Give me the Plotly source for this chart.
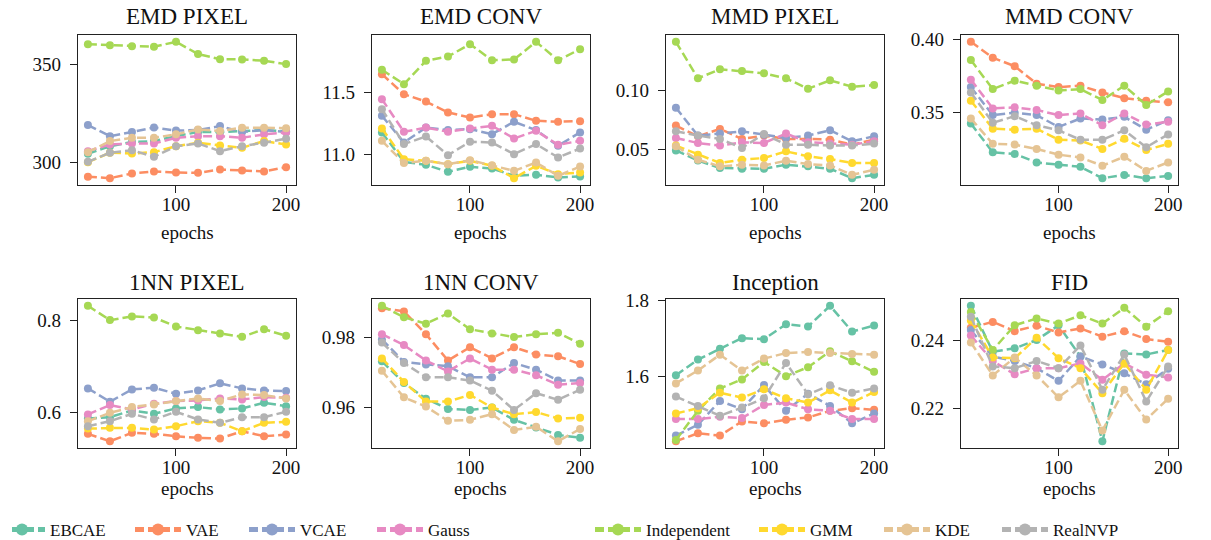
import plotly.graph_objects as go

epochs = [20, 40, 60, 80, 100, 120, 140, 160, 180, 200]
models = ["EBCAE", "VAE", "VCAE", "Gauss", "Independent", "GMM", "KDE", "RealNVP"]
colors = ["#66c2a5", "#fc8d62", "#8da0cb", "#e78ac3", "#a6d854", "#ffd92f", "#e5c494", "#b3b3b3"]
titles = ["EMD PIXEL", "EMD CONV", "MMD PIXEL", "MMD CONV", "1NN PIXEL", "1NN CONV", "Inception", "FID"]
x_ticks = [100, 200]

# rows follow the order of `models`
emd_pixel = [
    [304.6, 308.4, 310.5, 311.0, 313.5, 315.6, 315.6, 316.1, 316.6, 316.0],
    [292.9, 292.2, 294.6, 295.6, 295.1, 294.9, 296.6, 296.1, 295.6, 297.8],
    [319.1, 313.5, 315.6, 317.9, 316.3, 316.6, 318.6, 315.6, 316.6, 315.6],
    [305.9, 309.3, 309.8, 309.8, 312.7, 313.5, 313.5, 312.7, 314.4, 315.3],
    [360.1, 359.6, 359.0, 358.8, 361.3, 355.1, 352.5, 352.4, 351.7, 350.0],
    [300.3, 305.1, 304.7, 305.4, 308.4, 310.2, 308.8, 307.6, 311.0, 309.3],
    [305.4, 311.0, 312.7, 312.7, 314.4, 316.9, 316.1, 317.8, 317.8, 317.5],
    [300.5, 305.1, 306.4, 303.0, 308.4, 309.8, 305.9, 308.4, 310.2, 312.2],
]
emd_conv = [
    [11.177, 10.937, 10.913, 10.856, 10.897, 10.883, 10.823, 10.832, 10.810, 10.818],
    [11.652, 11.489, 11.429, 11.340, 11.299, 11.326, 11.326, 11.272, 11.264, 11.269],
    [11.313, 11.095, 11.217, 11.196, 11.204, 11.163, 11.264, 11.196, 11.068, 11.177],
    [11.448, 11.182, 11.217, 11.182, 11.209, 11.231, 11.128, 11.190, 11.076, 11.109],
    [11.688, 11.571, 11.761, 11.796, 11.897, 11.766, 11.772, 11.916, 11.766, 11.856],
    [11.209, 10.959, 10.946, 10.918, 10.946, 10.905, 10.804, 10.905, 10.837, 10.851],
    [11.109, 10.927, 10.946, 10.918, 10.951, 10.910, 10.864, 10.932, 10.823, 10.899],
    [11.367, 11.082, 11.144, 10.992, 11.101, 11.095, 11.000, 11.082, 10.973, 11.046],
]
mmd_pixel = [
    [0.0494, 0.0410, 0.0346, 0.0340, 0.0340, 0.0374, 0.0360, 0.0340, 0.0261, 0.0289],
    [0.0702, 0.0612, 0.0674, 0.0590, 0.0618, 0.0590, 0.0590, 0.0584, 0.0542, 0.0584],
    [0.0851, 0.0618, 0.0635, 0.0654, 0.0626, 0.0598, 0.0618, 0.0663, 0.0570, 0.0612],
    [0.0598, 0.0556, 0.0534, 0.0562, 0.0556, 0.0635, 0.0562, 0.0551, 0.0542, 0.0570],
    [0.1404, 0.1098, 0.1174, 0.1160, 0.1140, 0.1098, 0.1011, 0.1081, 0.1028, 0.1042],
    [0.0534, 0.0458, 0.0388, 0.0416, 0.0430, 0.0486, 0.0444, 0.0421, 0.0388, 0.0388],
    [0.0528, 0.0416, 0.0360, 0.0374, 0.0368, 0.0407, 0.0379, 0.0368, 0.0289, 0.0331],
    [0.0654, 0.0618, 0.0590, 0.0514, 0.0632, 0.0542, 0.0542, 0.0534, 0.0534, 0.0551],
]
mmd_conv = [
    [0.3426, 0.3229, 0.3218, 0.3160, 0.3144, 0.3130, 0.3052, 0.3074, 0.3052, 0.3067],
    [0.3986, 0.3877, 0.3819, 0.3699, 0.3676, 0.3685, 0.3639, 0.3600, 0.3583, 0.3572],
    [0.3676, 0.3484, 0.3500, 0.3484, 0.3403, 0.3461, 0.3454, 0.3472, 0.3384, 0.3449],
    [0.3727, 0.3530, 0.3537, 0.3519, 0.3484, 0.3495, 0.3414, 0.3495, 0.3419, 0.3438],
    [0.3861, 0.3662, 0.3720, 0.3685, 0.3653, 0.3662, 0.3588, 0.3685, 0.3553, 0.3646],
    [0.3583, 0.3391, 0.3384, 0.3391, 0.3315, 0.3310, 0.3252, 0.3322, 0.3245, 0.3287],
    [0.3461, 0.3287, 0.3282, 0.3252, 0.3213, 0.3194, 0.3137, 0.3199, 0.3102, 0.3160],
    [0.3639, 0.3431, 0.3477, 0.3414, 0.3380, 0.3315, 0.3315, 0.3380, 0.3264, 0.3352],
]
nn_pixel = [
    [0.5876, 0.5905, 0.6051, 0.5978, 0.6095, 0.6124, 0.6073, 0.6095, 0.6218, 0.6145],
    [0.5542, 0.5382, 0.5564, 0.5542, 0.5491, 0.5455, 0.5440, 0.5600, 0.5491, 0.5527],
    [0.6531, 0.6240, 0.6509, 0.6545, 0.6415, 0.6487, 0.6640, 0.6531, 0.6487, 0.6473],
    [0.5964, 0.6167, 0.6073, 0.6196, 0.6255, 0.6269, 0.6313, 0.6291, 0.6342, 0.6327],
    [0.8327, 0.8015, 0.8095, 0.8073, 0.7876, 0.7796, 0.7724, 0.7651, 0.7818, 0.7673],
    [0.5658, 0.5673, 0.5673, 0.5636, 0.5709, 0.5818, 0.5782, 0.5600, 0.5782, 0.5804],
    [0.5818, 0.6000, 0.6124, 0.6182, 0.6255, 0.6313, 0.6255, 0.6400, 0.6385, 0.6313],
    [0.5709, 0.5818, 0.5978, 0.5855, 0.6022, 0.5855, 0.5782, 0.5905, 0.5905, 0.6022],
]
nn_conv = [
    [0.9731, 0.9669, 0.9624, 0.9595, 0.9592, 0.9599, 0.9564, 0.9542, 0.9521, 0.9513],
    [0.9882, 0.9873, 0.9808, 0.9733, 0.9771, 0.9739, 0.9771, 0.9750, 0.9745, 0.9723],
    [0.9793, 0.9729, 0.9722, 0.9717, 0.9685, 0.9685, 0.9726, 0.9707, 0.9676, 0.9676],
    [0.9808, 0.9777, 0.9733, 0.9702, 0.9739, 0.9707, 0.9707, 0.9691, 0.9664, 0.9669],
    [0.9889, 0.9856, 0.9838, 0.9867, 0.9822, 0.9810, 0.9800, 0.9808, 0.9812, 0.9781],
    [0.9739, 0.9672, 0.9616, 0.9616, 0.9635, 0.9599, 0.9580, 0.9586, 0.9568, 0.9570],
    [0.9704, 0.9628, 0.9602, 0.9561, 0.9564, 0.9580, 0.9535, 0.9544, 0.9503, 0.9538],
    [0.9784, 0.9726, 0.9685, 0.9685, 0.9676, 0.9647, 0.9592, 0.9640, 0.9621, 0.9650],
]
inception = [
    [1.6026, 1.6435, 1.6722, 1.7000, 1.6974, 1.7365, 1.7304, 1.7852, 1.7174, 1.7330],
    [1.4287, 1.4496, 1.4435, 1.4809, 1.4757, 1.4852, 1.4913, 1.5087, 1.5157, 1.5113],
    [1.4435, 1.4722, 1.5348, 1.5130, 1.5765, 1.5087, 1.5539, 1.5217, 1.4757, 1.5017],
    [1.4870, 1.4870, 1.4930, 1.4896, 1.5243, 1.5304, 1.5130, 1.5087, 1.4870, 1.4870],
    [1.4322, 1.5087, 1.5678, 1.5913, 1.6374, 1.6000, 1.6235, 1.6652, 1.6391, 1.6113],
    [1.5017, 1.5157, 1.5565, 1.5435, 1.5652, 1.5417, 1.5304, 1.5626, 1.5304, 1.5583],
    [1.5809, 1.6148, 1.6565, 1.6148, 1.6461, 1.6609, 1.6635, 1.6609, 1.6583, 1.6565],
    [1.5461, 1.5217, 1.4957, 1.5174, 1.5417, 1.6348, 1.5522, 1.5757, 1.5565, 1.5678],
]
fid = [
    [0.2500, 0.2366, 0.2376, 0.2400, 0.2443, 0.2352, 0.2105, 0.2361, 0.2358, 0.2371],
    [0.2436, 0.2453, 0.2426, 0.2442, 0.2422, 0.2434, 0.2410, 0.2426, 0.2403, 0.2395],
    [0.2429, 0.2352, 0.2339, 0.2318, 0.2281, 0.2352, 0.2329, 0.2303, 0.2271, 0.2316],
    [0.2413, 0.2339, 0.2300, 0.2318, 0.2318, 0.2332, 0.2284, 0.2332, 0.2299, 0.2291],
    [0.2482, 0.2371, 0.2443, 0.2463, 0.2448, 0.2472, 0.2448, 0.2494, 0.2439, 0.2484],
    [0.2457, 0.2349, 0.2347, 0.2407, 0.2347, 0.2318, 0.2245, 0.2332, 0.2255, 0.2371],
    [0.2393, 0.2297, 0.2349, 0.2297, 0.2233, 0.2281, 0.2136, 0.2255, 0.2168, 0.2229],
    [0.2468, 0.2323, 0.2318, 0.2339, 0.2318, 0.2384, 0.2255, 0.2358, 0.2221, 0.2323],
]
metrics = [emd_pixel, emd_conv, mmd_pixel, mmd_conv, nn_pixel, nn_conv, inception, fid]
y_dticks = [50, 0.5, 0.05, 0.05, 0.2, 0.02, 0.2, 0.02]
y_formats = ["d", ".1f", ".2f", ".2f", ".1f", ".2f", ".1f", ".2f"]

# the page body has an 8px margin: the figure starts 8px in from the window corner
OFF = 8
W, H = 1211 - OFF, 540 - OFF
FONT = "Liberation Serif, Times New Roman, DejaVu Serif, serif"
col_px = [(78, 296), (372, 590), (666, 884), (961, 1178)]   # window pixels
row_px = [(35, 185), (299, 448)]
title_y_px = [17, 282]
label_y_px = [233, 488]
legend_y_px = 530
legend_marker_px = [22, 158, 272, 400, 618, 782, 907, 1025]


def fx(px):
    return (px - OFF) / W


def fy(py):
    return 1 - (py - OFF) / H


fig = go.Figure()
annotations = []
layout_axes = {}
for k, data in enumerate(metrics):
    r, c = divmod(k, 4)
    n = k + 1
    xa = "x" if n == 1 else f"x{n}"
    ya = "y" if n == 1 else f"y{n}"
    for i, model in enumerate(models):
        fig.add_trace(go.Scatter(
            x=epochs, y=data[i], name=model, xaxis=xa, yaxis=ya,
            mode="lines+markers",
            line=dict(color=colors[i], width=2.5, dash="9px,4px"),
            marker=dict(color=colors[i], size=8),
            showlegend=(k == 0),
            legend=("legend" if i == 0 else f"legend{i+1}"),
        ))
    flat = [v for row in data for v in row]
    lo, hi = min(flat), max(flat)
    pad = 0.05 * (hi - lo)
    x0, x1 = col_px[c]
    yt, yb = row_px[r]
    axis_common = dict(
        showline=True, linecolor="#222", linewidth=1.3, mirror=True,
        ticks="outside", ticklen=7, tickwidth=1.3, tickcolor="#222",
        showgrid=False, zeroline=False, automargin=False,
        tickfont=dict(family=FONT, size=19, color="#111"),
    )
    layout_axes[("xaxis" if n == 1 else f"xaxis{n}")] = dict(
        axis_common, domain=[fx(x0), fx(x1)], anchor=ya,
        range=[epochs[0] - 0.05 * (epochs[-1] - epochs[0]), epochs[-1] + 0.05 * (epochs[-1] - epochs[0])],
        tickvals=x_ticks, ticklabelstandoff=-5,
    )
    layout_axes[("yaxis" if n == 1 else f"yaxis{n}")] = dict(
        axis_common, domain=[fy(yb), fy(yt)], anchor=xa,
        range=[lo - pad, hi + pad], dtick=y_dticks[k], tick0=0,
        tickformat=y_formats[k], ticklabelstandoff=5,
    )
    annotations.append(dict(
        text=titles[k], x=fx((x0 + x1) / 2), y=fy(title_y_px[r]),
        xref="paper", yref="paper", xanchor="center", yanchor="middle",
        showarrow=False, font=dict(family=FONT, size=23, color="#111"),
    ))
    annotations.append(dict(
        text="epochs", x=fx((x0 + x1) / 2), y=fy(label_y_px[r]),
        xref="paper", yref="paper", xanchor="center", yanchor="middle",
        showarrow=False, font=dict(family=FONT, size=19, color="#111"),
    ))

legends = {}
for i in range(len(models)):
    key = "legend" if i == 0 else f"legend{i+1}"
    legends[key] = dict(
        x=fx(legend_marker_px[i] + 2 - 30), xanchor="left",
        y=fy(legend_y_px), yanchor="middle", orientation="h",
        bgcolor="rgba(0,0,0,0)", borderwidth=0, itemsizing="constant",
        itemwidth=46,
        font=dict(family=FONT, size=17, color="#111"),
    )

fig.update_layout(
    width=W, height=H, margin=dict(l=0, r=0, t=0, b=0, autoexpand=False),
    paper_bgcolor="white", plot_bgcolor="white",
    annotations=annotations, font=dict(family=FONT),
    **layout_axes, **legends,
)
fig.write_html("out.html")
